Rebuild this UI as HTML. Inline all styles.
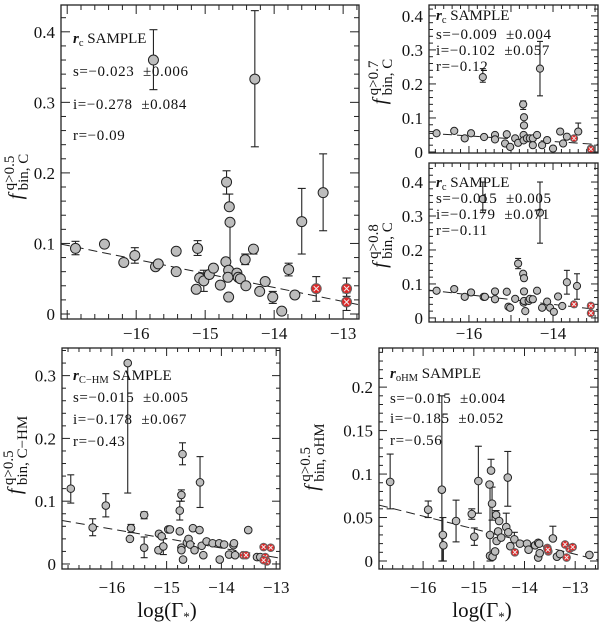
<!DOCTYPE html>
<html><head><meta charset="utf-8"><style>
html,body{margin:0;padding:0;background:#fff;}
svg{display:block;font-family:"Liberation Serif",serif;}
</style></head><body>
<svg id="c" width="600" height="623" viewBox="0 0 600 623" xmlns="http://www.w3.org/2000/svg"></svg>
<script>
// ---------- Panel A: r_c sample, q>0.5 ----------
const aX=[-16.88,-16.46,-16.18,-16.02,-15.72,-15.68,-15.42,-15.42,-15.75,-15.11,-15.13,-15.08,-15.02,-14.94,-14.88,-14.78,-14.69,-14.65,-14.64,-14.70,-14.66,-14.67,-14.66,-14.54,-14.52,-14.49,-14.42,-14.41,-14.30,-14.28,-14.21,-14.13,-14.02,-13.89,-13.79,-13.70,-13.60,-13.29,-13.39,-12.95,-12.95];
const aY=[0.093,0.099,0.073,0.083,0.067,0.071,0.089,0.060,0.360,0.093,0.035,0.051,0.047,0.056,0.065,0.041,0.187,0.152,0.130,0.074,0.062,0.052,0.024,0.058,0.052,0.050,0.077,0.040,0.092,0.333,0.032,0.046,0.024,0.004,0.063,0.027,0.131,0.172,0.036,0.036,0.017];
const aLo=[0.084,null,null,0.072,null,null,null,null,0.318,0.083,null,null,0.032,null,null,null,0.170,null,0.050,null,null,null,null,null,null,null,0.070,null,0.085,0.237,null,null,0.015,null,0.054,null,0.085,0.118,0.018,0.025,0.005];
const aHi=[0.103,null,null,0.094,null,null,null,null,0.403,0.104,null,null,0.062,null,null,null,0.203,0.170,null,null,null,null,null,null,null,null,0.085,null,0.097,0.430,null,null,0.032,null,0.072,null,0.178,0.227,0.053,0.051,0.030];
const aRed=[0,0,0,0,0,0,0,0,0,0,0,0,0,0,0,0,0,0,0,0,0,0,0,0,0,0,0,0,0,0,0,0,0,0,0,0,0,0,1,1,1];
const aFit=[-0.0199,-0.241];
const aStats=["s=−0.023  ±0.006","i=−0.278  ±0.084","r=−0.09"];

// ---------- Panel B: r_c sample, q>0.7 ----------
const bX=[-16.77,-16.35,-16.10,-15.95,-15.67,-15.64,-15.38,-15.38,-15.10,-15.14,-15.02,-14.90,-14.83,-14.71,-14.69,-14.69,-14.70,-14.70,-14.62,-14.55,-14.48,-14.38,-14.48,-14.31,-14.26,-14.14,-14.00,-13.83,-13.76,-13.67,-13.40,-13.50,-13.10,-13.10];
const bY=[0.055,0.062,0.040,0.055,0.220,0.044,0.050,0.037,0.052,0.025,0.015,0.040,0.027,0.140,0.102,0.078,0.050,0.034,0.040,0.040,0.040,0.050,0.020,0.245,0.020,0.035,0.010,0.060,0.025,0.045,0.060,0.040,0.010,0.008];
const bLo=[null,null,null,null,0.205,null,null,null,null,null,null,null,null,0.125,null,null,null,null,null,null,null,null,null,0.165,null,null,null,null,null,null,null,null,null,null];
const bHi=[null,null,null,null,0.245,null,null,null,null,null,null,null,null,0.150,null,null,null,null,null,null,null,null,null,0.325,null,null,null,null,null,null,0.085,null,null,null];
const bRed=[0,0,0,0,0,0,0,0,0,0,0,0,0,0,0,0,0,0,0,0,0,0,0,0,0,0,0,0,0,0,0,1,1,1];
const bFit=[-0.0082,-0.084];
const bStats=["s=−0.009  ±0.004","i=−0.102  ±0.057","r=−0.12"];

// ---------- Panel C: r_c sample, q>0.8 ----------
const cX=[-16.77,-16.35,-16.10,-15.95,-15.67,-15.65,-15.62,-15.38,-15.38,-15.10,-15.06,-15.02,-14.90,-14.83,-14.71,-14.69,-14.69,-14.70,-14.66,-14.69,-14.58,-14.55,-14.48,-14.38,-14.31,-14.26,-14.14,-14.07,-13.98,-13.88,-13.78,-13.67,-13.43,-13.50,-13.10,-13.10];
const cY=[0.080,0.085,0.062,0.075,0.350,0.062,0.062,0.078,0.055,0.077,0.033,0.030,0.056,0.160,0.130,0.117,0.078,0.045,0.020,0.050,0.050,0.056,0.055,0.080,0.310,0.030,0.048,0.030,0.018,0.063,0.035,0.105,0.094,0.040,0.036,0.014];
const cLo=[null,null,null,null,0.310,null,null,null,null,null,null,null,null,0.145,null,null,null,null,null,null,null,null,null,null,0.220,null,null,null,null,null,null,0.070,0.055,null,null,null];
const cHi=[null,null,null,null,0.400,null,null,null,null,null,null,null,null,0.175,null,null,null,null,null,null,null,null,null,null,0.400,null,null,null,null,null,null,0.140,0.130,null,null,null];
const cRed=[0,0,0,0,0,0,0,0,0,0,0,0,0,0,0,0,0,0,0,0,0,0,0,0,0,0,0,0,0,0,0,0,0,1,1,1];
const cFit=[-0.0142,-0.159];
const cStats=["s=−0.015  ±0.005","i=−0.179  ±0.071","r=−0.11"];

// ---------- Panel D: r_C-HM sample ----------
const dX=[-16.75,-16.35,-16.11,-15.71,-15.67,-15.65,-15.41,-15.41,-15.15,-15.14,-15.09,-15.06,-14.97,-14.94,-14.76,-14.76,-14.73,-14.71,-14.73,-14.73,-14.70,-14.63,-14.60,-14.57,-14.52,-14.49,-14.40,-14.39,-14.36,-14.33,-14.27,-14.16,-14.04,-14.03,-13.95,-13.86,-13.78,-13.75,-13.77,-13.51,-13.35,-13.29,-13.60,-13.55,-13.23,-13.20,-13.17,-13.10,-13.23];
const dY=[0.120,0.058,0.093,0.320,0.040,0.057,0.078,0.026,0.022,0.048,0.044,0.028,0.055,0.055,0.052,0.085,0.110,0.175,0.026,0.022,0.007,0.034,0.040,0.031,0.057,0.022,0.054,0.130,0.029,0.014,0.036,0.033,0.033,0.007,0.031,0.015,0.030,0.014,0.033,0.054,0.011,0.011,0.014,0.014,0.027,0.011,0.004,0.026,0.006];
const dLo=[0.097,0.045,0.075,0.113,null,0.050,0.072,0.010,null,null,null,0.015,null,null,null,0.070,0.100,0.158,null,null,null,null,null,null,null,null,null,0.090,null,null,null,null,null,null,null,null,null,null,null,null,null,null,null,null,null,null,null,null,null];
const dHi=[0.142,0.072,0.112,0.320,null,0.063,0.083,0.043,null,null,null,0.040,0.058,null,null,0.100,0.118,0.193,null,null,null,null,null,null,0.060,null,null,0.171,null,null,null,null,null,null,null,null,0.034,null,null,null,null,null,null,null,null,null,null,null,null];
const dRed=[0,0,0,0,0,0,0,0,0,0,0,0,0,0,0,0,0,0,0,0,0,0,0,0,0,0,0,0,0,0,0,0,0,0,0,0,0,0,0,0,0,0,1,1,1,1,1,1,1];
const dFit=[-0.0151,-0.186];
const dStats=["s=−0.015  ±0.005","i=−0.178  ±0.067","r=−0.43"];

// ---------- Panel E: r_oHM sample ----------
const eX=[-16.65,-15.90,-15.63,-15.61,-15.60,-15.35,-15.04,-14.99,-14.91,-14.69,-14.66,-14.64,-14.68,-14.68,-14.63,-14.56,-14.50,-14.58,-14.52,-14.55,-14.46,-14.36,-14.32,-14.33,-14.28,-14.20,-14.09,-13.95,-13.92,-13.79,-13.73,-13.73,-13.70,-13.71,-13.44,-13.36,-13.30,-12.72,-14.19,-13.55,-13.53,-13.54,-13.20,-13.17,-13.11,-13.05];
const eY=[0.091,0.059,0.082,0.030,0.018,0.046,0.054,0.028,0.092,0.088,0.104,0.066,0.030,0.006,0.005,0.053,0.046,0.011,0.034,0.023,0.027,0.039,0.033,0.096,0.017,0.025,0.020,0.020,0.013,0.018,0.021,0.004,0.009,0.020,0.026,0.005,0.008,0.007,0.010,0.015,0.011,0.013,0.019,0.004,0.014,0.016];
const eLo=[0.060,0.050,0.000,0.000,0.000,0.022,0.048,0.018,0.055,null,null,0.047,0.000,null,null,null,null,null,null,null,null,null,null,0.063,null,null,null,null,null,null,null,null,null,null,null,null,null,null,null,null,null,null,null,null,null,null];
const eHi=[0.123,0.069,0.190,0.050,null,0.070,0.060,0.038,0.132,null,0.117,0.085,0.090,null,null,0.058,null,null,null,null,null,0.055,null,0.126,null,0.033,null,null,null,null,null,null,null,null,0.040,null,null,null,null,null,null,null,null,null,null,null];
const eRed=[0,0,0,0,0,0,0,0,0,0,0,0,0,0,0,0,0,0,0,0,0,0,0,0,0,0,0,0,0,0,0,0,0,0,0,0,0,0,1,1,1,1,1,1,1,1];
const eFit=[-0.0146,-0.182];
const eStats=["s=−0.015  ±0.004","i=−0.185  ±0.052","r=−0.56"];

const xTicksA=[-16,-15,-14,-13];
const xTicksB=[-16,-14];
const yTicksA=[0,0.1,0.2,0.3,0.4];
const yTicksD=[0,0.1,0.2,0.3];
const yTicksE=[0,0.05,0.1,0.15,0.2];

const NS="http://www.w3.org/2000/svg";
const svg=document.getElementById('c');
function mk(tag,attrs,parent){const e=document.createElementNS(NS,tag);for(const k in attrs)e.setAttribute(k,attrs[k]);(parent||svg).appendChild(e);return e;}
function fmt(v){return (v<0?"−":"")+String(Math.abs(v));}

function panel(id,box,xd,yd,xs,ys,lo,hi,red,fit,stats,sub,ylab,xt,xminor,yt,yminor,opt){
  const g=mk('g',{});
  
  
  const X=v=>box.l+(v-xd[0])/(xd[1]-xd[0])*(box.r-box.l);
  const Y=v=>box.b-(v-yd[0])/(yd[1]-yd[0])*(box.b-box.t);
  const clip=mk('clipPath',{id:'cl'+id},g);
  mk('rect',{x:box.l,y:box.t,width:box.r-box.l,height:box.b-box.t},clip);
  const tk=mk('g',{stroke:'#222','stroke-width':1},g);
  
  
  for(let v=Math.ceil(xd[0]/xminor)*xminor;v<=xd[1];v+=xminor){
    const major=Math.abs(v-Math.round(v))<1e-6;const L=major?opt.maj:opt.min;const x=X(v);
    mk('line',{x1:x,y1:box.b,x2:x,y2:box.b-L},tk);mk('line',{x1:x,y1:box.t,x2:x,y2:box.t+L},tk);
  }
  for(let k=Math.ceil(yd[0]/yminor);k*yminor<=yd[1];k++){
    const v=k*yminor;const major=yt.some(t=>Math.abs(t-v)<1e-6);const L=major?opt.maj:opt.min;const y=Y(v);
    mk('line',{x1:box.l,y1:y,x2:box.l+L,y2:y},tk);mk('line',{x1:box.r,y1:y,x2:box.r-L,y2:y},tk);
  }
  yt.forEach(t=>{const e=mk('text',{x:box.l-6,y:Y(t)+6,'text-anchor':'end','font-size':opt.fs,fill:'#111'},g);e.textContent=fmt(t);
    });
  if(xt){xt.forEach(t=>{const e=mk('text',{x:X(t),y:box.b+opt.xlOff,'text-anchor':'middle','font-size':opt.fs,fill:'#111'},g);e.textContent=fmt(t);
    });}
  const fl=mk('line',{x1:X(xd[0]),y1:Y(fit[0]*xd[0]+fit[1]),x2:X(xd[1]),y2:Y(fit[0]*xd[1]+fit[1]),stroke:'#222','stroke-width':1,'stroke-dasharray':'9,5','clip-path':'url(#cl'+id+')'},g);
  
  const eg=mk('g',{stroke:'#222','stroke-width':1.1,'clip-path':'url(#cl'+id+')'},g);
  
  xs.forEach((xv,i)=>{const x=X(xv),c=opt.cap;
    if(hi[i]!=null){mk('line',{x1:x,y1:Y(ys[i]),x2:x,y2:Y(hi[i])},eg);mk('line',{x1:x-c,y1:Y(hi[i]),x2:x+c,y2:Y(hi[i])},eg);}
    if(lo[i]!=null){mk('line',{x1:x,y1:Y(ys[i]),x2:x,y2:Y(lo[i])},eg);mk('line',{x1:x-c,y1:Y(lo[i]),x2:x+c,y2:Y(lo[i])},eg);}
  });
  const pg=mk('g',{},g);
  
  xs.forEach((xv,i)=>{const x=X(xv),y=Y(ys[i]);
    const c=mk('circle',{cx:x,cy:y,r:opt.r,fill:red[i]?'#dd2a2a':'#bdbdbd',stroke:red[i]?'#666':'#222','stroke-width':1},pg);
    
    
    if(red[i]){const d=opt.r*0.5;mk('path',{d:`M${x-d},${y-d}L${x+d},${y+d}M${x-d},${y+d}L${x+d},${y-d}`,stroke:'#eee','stroke-width':1},pg);}
  });
  const fr=mk('rect',{x:box.l,y:box.t,width:box.r-box.l,height:box.b-box.t,fill:'none',stroke:'#222','stroke-width':1.3},g);
  
  const an=mk('text',{x:opt.tx,y:opt.ty[0],'font-size':opt.tfs,fill:'#111','xml:space':'preserve'},g);
  
  an.innerHTML='<tspan font-style="italic" font-weight="bold">r</tspan><tspan font-size="'+(opt.tfs*0.7)+'" dy="3">'+sub+'</tspan><tspan dy="-3"> SAMPLE</tspan>';
  stats.forEach((s,k)=>{const e=mk('text',{x:opt.tx,y:opt.ty[k+1],'font-size':opt.sfs,fill:'#111','letter-spacing':opt.ls,style:'white-space:pre'},g);e.textContent=s;
    });
  // y label: f with stacked sup/sub
  const cy=(box.t+box.b)/2+opt.yly;
  const w=10+Math.max(ylab[0].length,ylab[1].length)*6.8;
  const yg=mk('g',{transform:`translate(${opt.ylx},${cy}) rotate(-90)`,fill:'#111'},g);
  
  const f=mk('text',{x:-w/2,y:0,'font-size':opt.fs+3,'font-style':'italic'},yg);f.textContent='f';
  const sp=mk('text',{x:-w/2+9,y:-8,'font-size':opt.fs-2},yg);sp.textContent=ylab[0];
  const sb=mk('text',{x:-w/2+9,y:6,'font-size':opt.fs-2},yg);sb.textContent=ylab[1];
}

panel('panel-a',{l:61,r:359,t:5,b:319},[-17.09,-12.77],[-0.0071,0.438],aX,aY,aLo,aHi,aRed,aFit,aStats,'c',['q>0.5','bin, C'],xTicksA,0.2,yTicksA,0.02,
 {maj:9,min:5,fs:17,xlOff:20,cap:4,r:5,tx:73,ty:[43,76,109,140],tfs:15,sfs:15,ls:0.6,ylx:22,yly:12});
panel('panel-b',{l:429,r:598,t:5,b:153},[-16.95,-12.93],[-0.003,0.432],bX,bY,bLo,bHi,bRed,bFit,bStats,'c',['q>0.7','bin, C'],null,0.2,yTicksA,0.02,
 {maj:7,min:4,fs:17,xlOff:20,cap:3,r:3.6,tx:436,ty:[20,39,55,71],tfs:15,sfs:15,ls:0.6,ylx:386,yly:0});
panel('panel-c',{l:429,r:598,t:163,b:322},[-16.95,-12.93],[-0.012,0.456],cX,cY,cLo,cHi,cRed,cFit,cStats,'c',['q>0.8','bin, C'],xTicksB,0.2,yTicksA,0.02,
 {maj:7,min:4,fs:17,xlOff:17,cap:3,r:3.6,tx:436,ty:[187,203,219,235],tfs:15,sfs:15,ls:0.6,ylx:386,yly:0});
panel('panel-d',{l:62,r:280,t:348,b:569},[-16.91,-12.93],[-0.008,0.344],dX,dY,dLo,dHi,dRed,dFit,dStats,'C−HM',['q>0.5','bin, C−HM'],xTicksA,0.2,yTicksD,0.02,
 {maj:8,min:4,fs:17,xlOff:24,cap:3.5,r:3.8,tx:73,ty:[380,402,424,446],tfs:15,sfs:15,ls:0.6,ylx:21,yly:0});
panel('panel-e',{l:379,r:598,t:348,b:569},[-16.87,-12.55],[-0.0092,0.245],eX,eY,eLo,eHi,eRed,eFit,eStats,'oHM',['q>0.5','bin, oHM'],xTicksA,0.2,yTicksE,0.01,
 {maj:8,min:4,fs:17,xlOff:24,cap:3.5,r:3.8,tx:390,ty:[378,403,423,445],tfs:15,sfs:15,ls:0.6,ylx:318,yly:0});

[[167,'left'],[482,'right']].forEach(([cx,s])=>{
  const t=mk('text',{x:cx,y:617,'text-anchor':'middle','font-size':21,fill:'#111'});
  
  
  t.innerHTML='log(Γ<tspan font-size="13" dy="4">*</tspan><tspan dy="-4">)</tspan>';
});
</script>
</body></html>
